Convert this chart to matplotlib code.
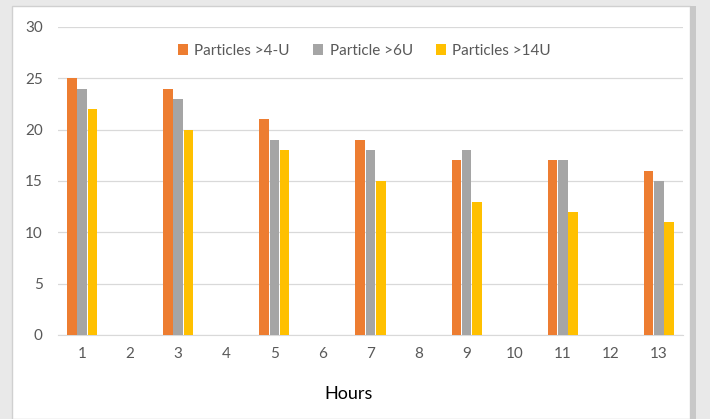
import matplotlib
matplotlib.use('Agg')
import matplotlib.pyplot as plt
from matplotlib.patches import Rectangle
import numpy as np

hours = list(range(1, 14))
p4 = [25, None, 24, None, 21, None, 19, None, 17, None, 17, None, 16]
p6 = [24, None, 23, None, 19, None, 18, None, 18, None, 17, None, 15]
p14 = [22, None, 20, None, 18, None, 15, None, 13, None, 12, None, 11]
labels = ['Particles >4-U', 'Particle >6U', 'Particles >14U']
colors = ['#ED7D31', '#A5A5A5', '#FFC000']

plt.rcParams['font.family'] = ['Lato', 'DejaVu Sans']

fig = plt.figure(figsize=(7.1, 4.19), dpi=100)
fig.patch.set_facecolor('#e9e9e9')
# white chart area with a soft border
fig.patches.append(Rectangle((12 / 710, 0), 678 / 710, 413 / 419, transform=fig.transFigure,
                             facecolor='white', edgecolor='#d0d0d0', linewidth=1, zorder=-10))
fig.patches.append(Rectangle((690 / 710, 0), 6 / 710, 413 / 419, transform=fig.transFigure,
                             facecolor='#c8c8c8', edgecolor='none', zorder=-10))

ax = fig.add_axes([58 / 710, 1 - 335 / 419, 625 / 710, 308 / 419])
ax.set_facecolor('white')

x = np.arange(len(hours))
w = 0.2
for i, (vals, lab, c) in enumerate(zip([p4, p6, p14], labels, colors)):
    v = [np.nan if a is None else a for a in vals]
    ax.bar(x + (i - 1) * (w + 0.015), v, width=w, color=c, label=lab, zorder=3)

ax.set_ylim(0, 30)
ax.set_yticks(range(0, 31, 5))
ax.set_xlim(-0.5, len(hours) - 0.5)
ax.set_xticks(x)
ax.set_xticklabels([str(h) for h in hours])
ax.grid(axis='y', color='#d9d9d9', linewidth=0.9, zorder=0)
for s in ['top', 'right', 'left']:
    ax.spines[s].set_visible(False)
ax.spines['bottom'].set_color('#d9d9d9')
ax.tick_params(length=0, colors='#595959', labelsize=11)
ax.tick_params(axis='x', pad=9)
ax.tick_params(axis='y', pad=11)
ax.set_xlabel('Hours', fontsize=13, color='black', labelpad=14)
ax.xaxis.set_label_coords(291 / 625, -0.165)

ax.legend(loc='upper center', bbox_to_anchor=(0.49, 0.99), ncol=3, frameon=False,
          fontsize=11, handlelength=0.7, handleheight=0.7, handletextpad=0.4,
          columnspacing=1.5, labelcolor='#595959')

fig.savefig('out.png', dpi=100, facecolor=fig.get_facecolor())
